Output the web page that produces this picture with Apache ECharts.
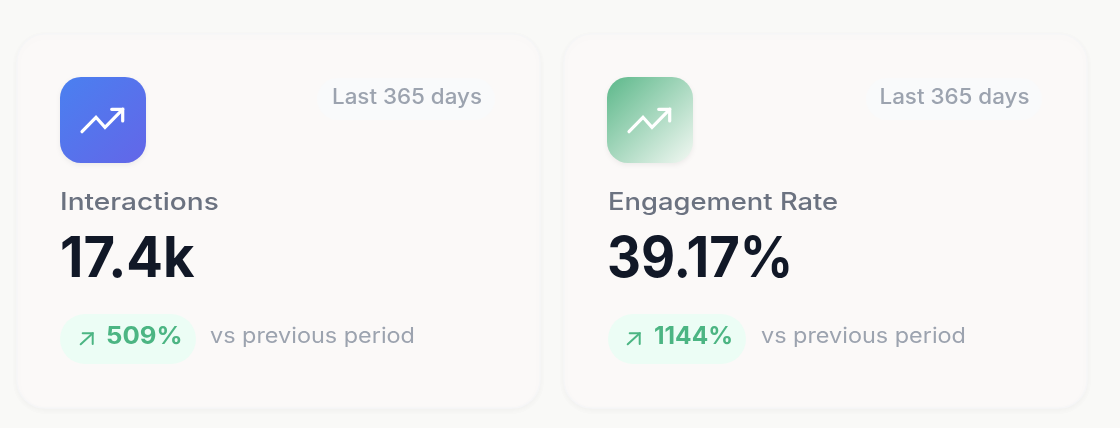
<!DOCTYPE html>
<html><head><meta charset="utf-8">
<style>html,body{margin:0;padding:0;background:#f9f9f7}#c{width:1120px;height:428px}</style>
<script src="https://cdn.jsdelivr.net/npm/echarts@6/dist/echarts.min.js"></script>
</head><body><div id="c"></div>
<script>
var titles = ['Interactions', 'Engagement Rate'];
var values = ['17.4k', '39.17%'];
var deltas = ['509%', '1144%'];
var periods = ['Last 365 days', 'Last 365 days'];
var note = 'vs previous period';
var cardLefts = [17, 564];
var pillWidths = [136, 138];
var periodLefts = [317, 866];
var periodWidths = [178, 176];
var titleScales = [1.17, 1.14];
var valueScales = [0.97, 0.94];
var deltaScales = [1.07, 1.02];
var iconGrads = [['#4a80f0', '#6366e8'], ['#5cb88a', '#f3f8f3']];
var FONT = 'Inter, "Noto Sans", sans-serif';

var chart = echarts.init(document.getElementById('c'));
var els = [];
function txt(x, y, s, size, weight, color, sx) {
  els.push({type:'text', x:x, y:y, scaleX:sx||1, z:5,
    style:{text:s, fontFamily:FONT, fontSize:size, fontWeight:weight, fill:color}});
}
titles.forEach(function(t, i){
  var L = cardLefts[i];
  els.push({type:'rect', z:1, shape:{x:L,y:34,width:523,height:374,r:28},
    style:{fill:'#fbf9f8', stroke:'#f6f6f7', lineWidth:1.5, shadowBlur:6, shadowOffsetY:2, shadowColor:'rgba(0,0,0,0.04)'}});
  var ix = L + 43;
  els.push({type:'rect', z:2, shape:{x:ix,y:77,width:86,height:86,r:21},
    style:{fill:new echarts.graphic.LinearGradient(0,0,1,1,[{offset:0,color:iconGrads[i][0]},{offset:1,color:iconGrads[i][1]}]),
      shadowBlur:5, shadowOffsetY:2, shadowColor:'rgba(0,0,0,0.06)'}});
  var lineStyle = {stroke:'#ffffff', lineWidth:3.2, lineCap:'round', lineJoin:'miter', fill:null};
  els.push({type:'polyline', z:3, shape:{points:[[ix+22,131.7],[ix+36,117.3],[ix+45,127.3],[ix+62.7,109.3]]}, style:lineStyle});
  els.push({type:'polyline', z:3, shape:{points:[[ix+51.7,109.3],[ix+62.7,109.3],[ix+62.7,121]]}, style:lineStyle});
  els.push({type:'rect', z:2, shape:{x:periodLefts[i],y:78,width:periodWidths[i],height:42,r:21}, style:{fill:'#f9fafb'}});
  txt(periodLefts[i]+15-(i?1.5:0), 87, periods[i], 21, 500, '#9ca3af', 1.065);
  txt(ix+(i?1:0), 191, t, 24, 500, '#6b7280', titleScales[i]);
  txt(ix, 232, values[i], 56, 700, '#111827', valueScales[i]);
  els.push({type:'rect', z:2, shape:{x:ix+(i?1:0),y:314,width:pillWidths[i],height:50,r:25}, style:{fill:'#ecfdf5'}});
  var ax = ix + 20.7;
  var arrow = {stroke:'#4cb583', lineWidth:2, lineCap:'round', fill:null};
  els.push({type:'polyline', z:3, shape:{points:[[ax,344.3],[ax+12,333.3]]}, style:arrow});
  els.push({type:'polyline', z:3, shape:{points:[[ax+2,333.3],[ax+12,333.3],[ax+12,344]]}, style:arrow});
  txt(ix+46+(i?1:0), 325, deltas[i], 24, 700, '#4cb583', deltaScales[i]);
  txt(ix+pillWidths[i]+14+(i?2:0), 326, note, 21, 400, '#9ca3af', 1.115);
});
chart.setOption({backgroundColor:'#f9f9f7', animation:false, graphic:{elements:els}});
</script></body></html>
